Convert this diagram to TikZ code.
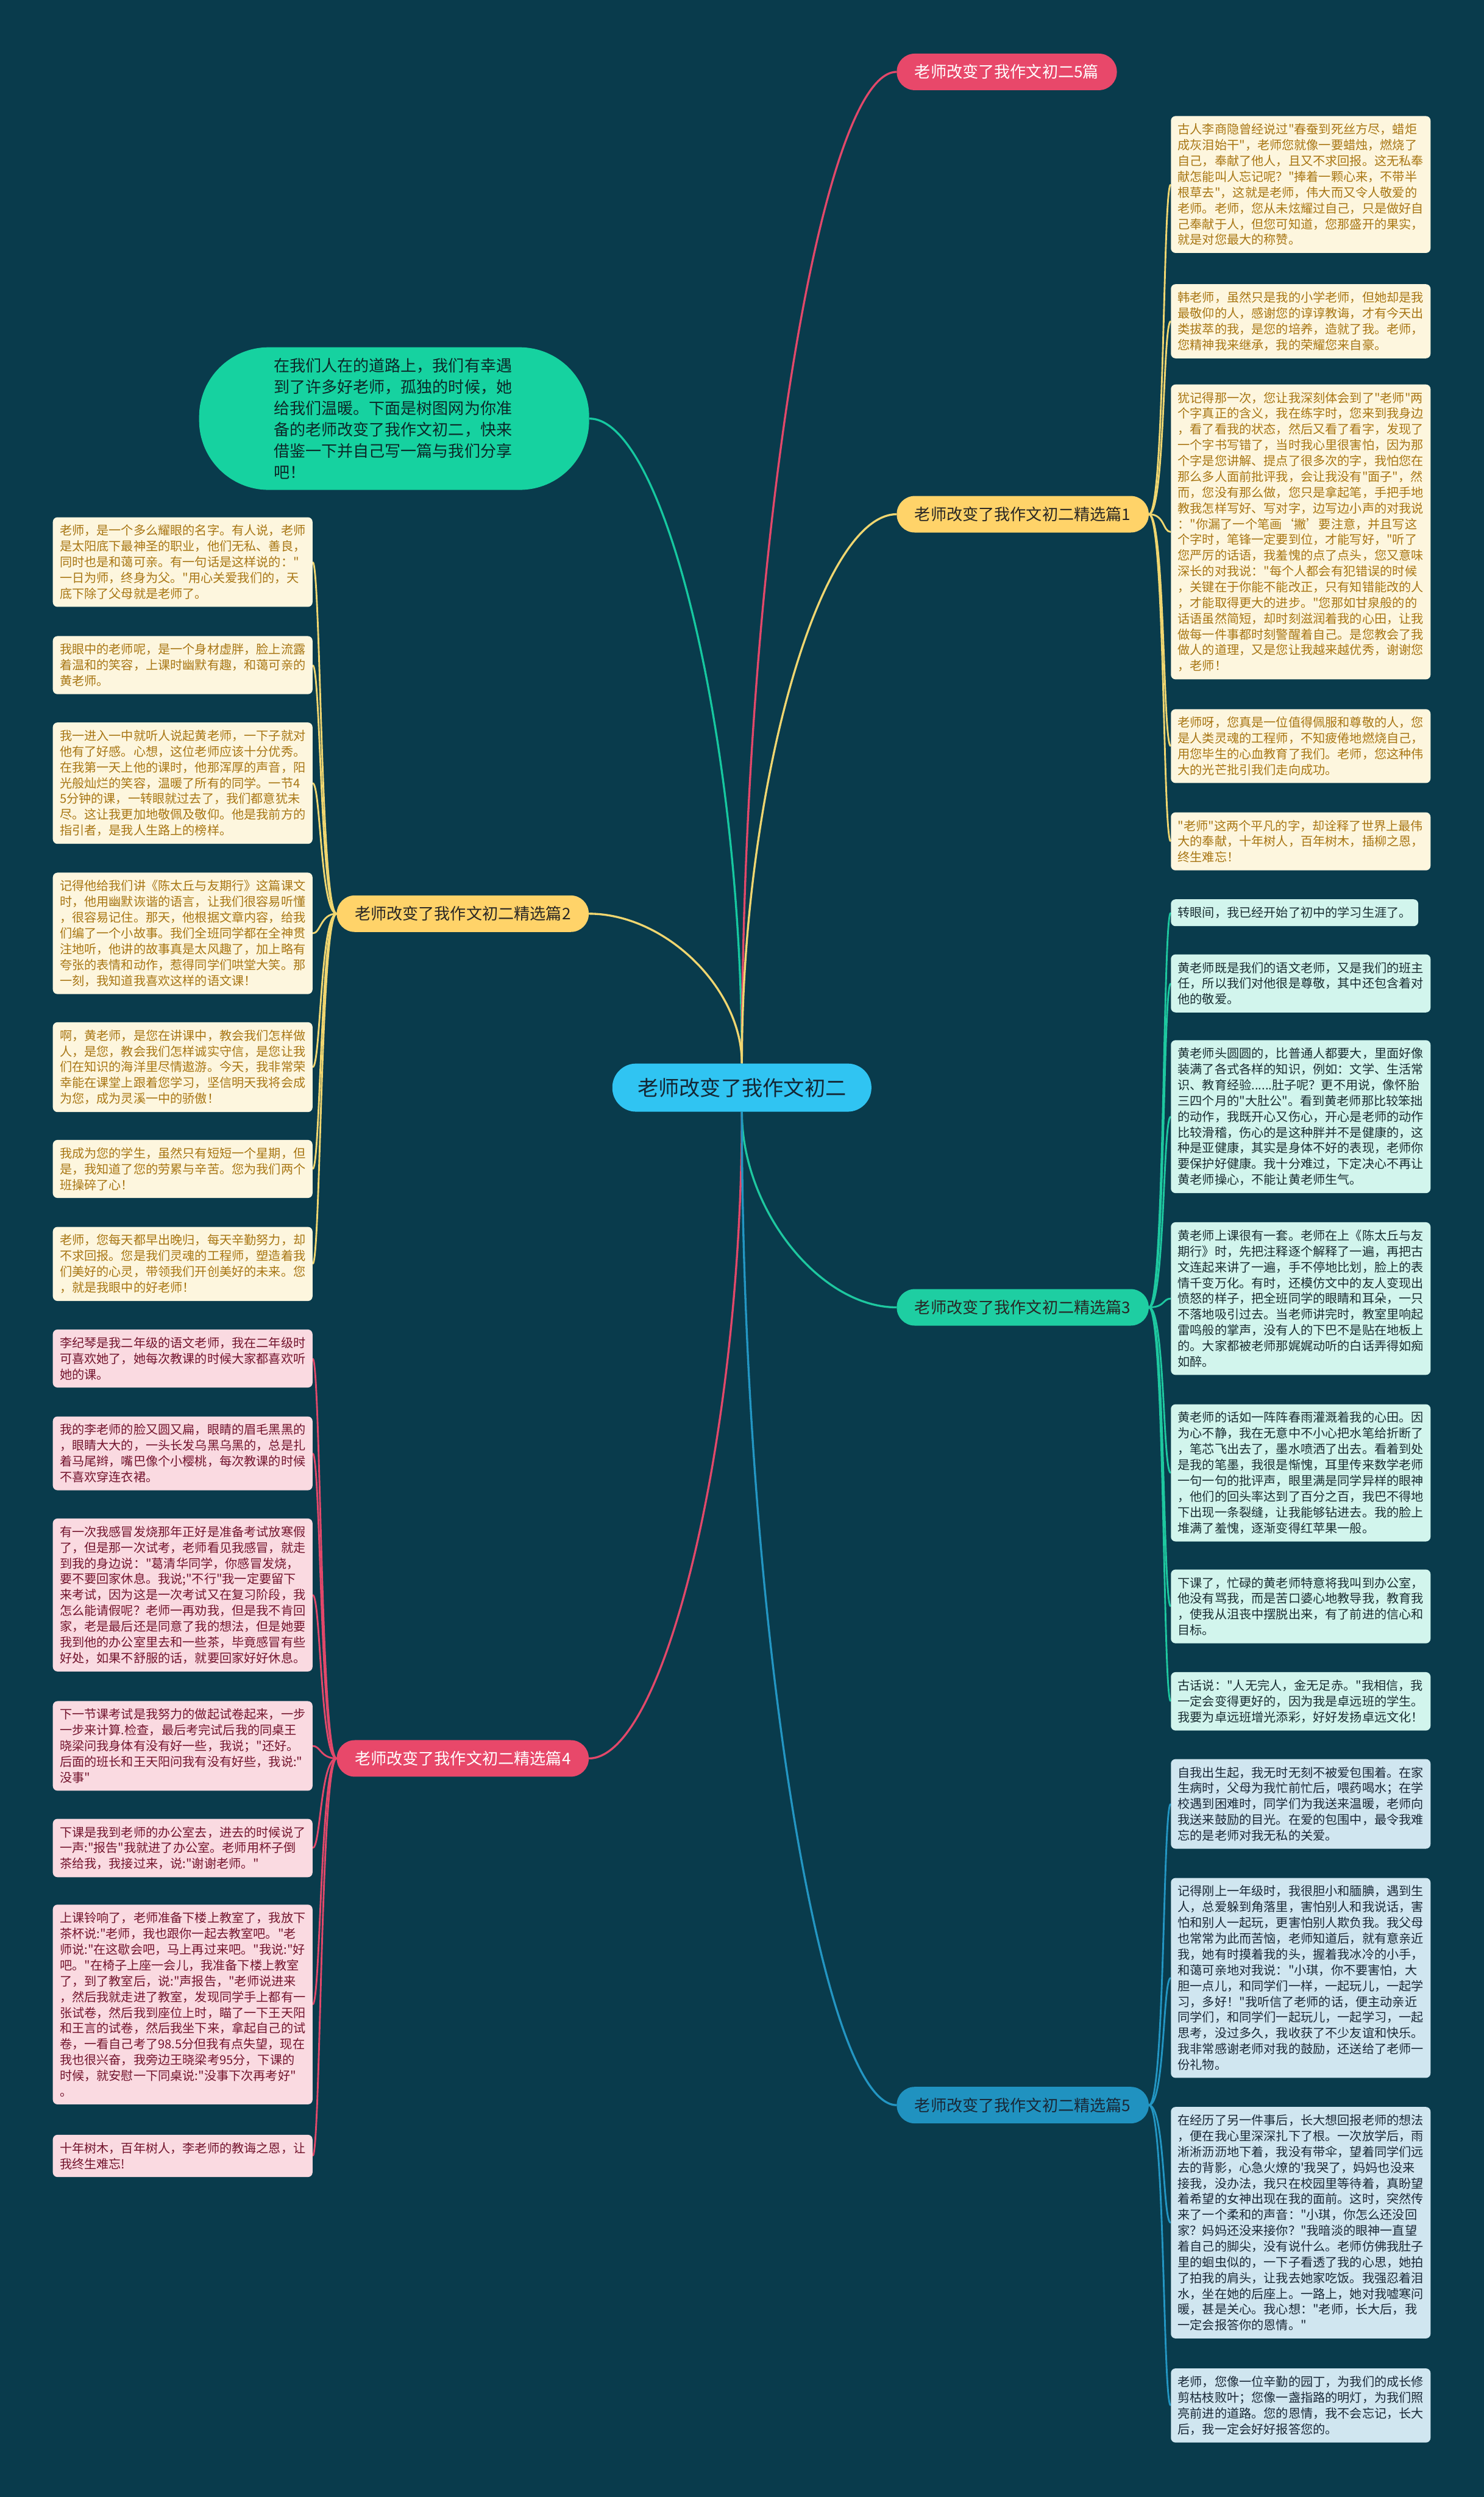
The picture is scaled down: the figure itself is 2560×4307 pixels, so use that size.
\documentclass[tikz,border=0pt]{standalone}
\usepackage{fontspec}
\newfontfamily\cjk{Noto Sans CJK SC}
\usetikzlibrary{calc}
\pgfdeclarelayer{bg}
\pgfsetlayers{bg,main}
\definecolor{bgc}{RGB}{9,59,76}
\definecolor{ctrfill}{RGB}{48,196,242}
\definecolor{ctrtext}{RGB}{20,38,52}
\definecolor{pinkfill}{RGB}{232,72,106}
\definecolor{yellowfill}{RGB}{255,211,105}
\definecolor{greenfill}{RGB}{30,206,162}
\definecolor{bluefill}{RGB}{32,146,192}
\definecolor{introfill}{RGB}{22,210,160}
\definecolor{darktext}{RGB}{40,38,36}
\definecolor{introtext}{RGB}{12,40,40}
\definecolor{lineY}{RGB}{240,214,112}
\definecolor{lineP}{RGB}{226,72,106}
\definecolor{lineG}{RGB}{30,200,160}
\definecolor{lineB}{RGB}{35,150,195}
\definecolor{lineI}{RGB}{22,200,160}
\definecolor{creamfill}{RGB}{253,246,222}
\definecolor{creamtext}{RGB}{168,118,20}
\definecolor{mintfill}{RGB}{210,245,237}
\definecolor{minttext}{RGB}{25,45,50}
\definecolor{bluelfill}{RGB}{208,230,240}
\definecolor{bluetext}{RGB}{25,40,55}
\definecolor{pinklfill}{RGB}{250,218,225}
\definecolor{pinktext}{RGB}{115,20,45}
\tikzset{
  ctrnode/.style={fill=ctrfill, text=ctrtext, minimum width=447pt, minimum height=83pt, rounded corners=41pt, inner sep=0pt, font=\cjk\fontsize{36}{40}\selectfont},
  lab/.style={minimum height=63pt, rounded corners=31pt, inner xsep=31pt, inner ysep=0pt, font=\cjk\fontsize{27.5}{30}\selectfont},
  labY/.style={lab, fill=yellowfill, text=darktext},
  labP/.style={lab, fill=pinkfill, text=white},
  labG/.style={lab, fill=greenfill, text=darktext},
  labB/.style={lab, fill=bluefill, text=bluetext},
  intro/.style={fill=introfill, text=introtext, minimum width=673pt, minimum height=246pt, rounded corners=120pt, text width=415pt, align=left, inner sep=0pt, font=\cjk\fontsize{27.4}{36.7}\selectfont},
  leaf/.style={rounded corners=8pt, text width=424pt, align=left, inner xsep=12pt, inner ysep=13pt, anchor=north west, font=\cjk\fontsize{21.2}{27.2}\selectfont},
  leafY/.style={leaf, fill=creamfill, text=creamtext},
  leafG/.style={leaf, fill=mintfill, text=minttext},
  leafB/.style={leaf, fill=bluelfill, text=bluetext},
  leafP/.style={leaf, fill=pinklfill, text=pinktext},
  mainline/.style={line width=3.5pt},
  leafline/.style={line width=3pt},
}
\newcommand\myrconn[3]{\draw[leafline,#1] (#2.east) .. controls ($(#2.east)+(28,0)$) and ($(#3.west)+(-14,0)$) .. (#3.west);}
\newcommand\mylconn[3]{\draw[leafline,#1] (#2.west) .. controls ($(#2.west)+(-28,0)$) and ($(#3.east)+(14,0)$) .. (#3.east);}
\begin{document}
\begin{tikzpicture}[x=1pt,y=-1pt]
\begin{pgfonlayer}{bg}
\fill[bgc] (0,0) rectangle (2560,4307);
\end{pgfonlayer}
\useasboundingbox (0,0) rectangle (2560,4307);

% centre
\node[ctrnode] (ctr) at (1280,1876) {老师改变了我作文初二};

% intro
\node[intro] (intro) at (680,722) {在我们人在的道路上，我们有幸遇\\到了许多好老师，孤独的时候，她\\给我们温暖。下面是树图网为你准\\备的老师改变了我作文初二，快来\\借鉴一下并自己写一篇与我们分享\\吧！};

% branch labels
\node[labP, anchor=west] (b0) at (1547,124) {老师改变了我作文初二5篇};
\node[labY, anchor=west] (b1) at (1547,887) {老师改变了我作文初二精选篇1};
\node[labY, anchor=east] (b2) at (1016,1576) {老师改变了我作文初二精选篇2};
\node[labG, anchor=west] (b3) at (1547,2255) {老师改变了我作文初二精选篇3};
\node[labP, anchor=east] (b4) at (1016,3033) {老师改变了我作文初二精选篇4};
\node[labB, anchor=west] (b5) at (1547,3631) {老师改变了我作文初二精选篇5};

% branch 1 leaves
\node[leafY] (r1a) at (2020,200) {古人李商隐曾经说过"春蚕到死丝方尽，蜡炬\\成灰泪始干"，老师您就像一要蜡烛，燃烧了\\自己，奉献了他人，且又不求回报。这无私奉\\献怎能叫人忘记呢？"捧着一颗心来，不带半\\根草去"，这就是老师，伟大而又令人敬爱的\\老师。老师，您从未炫耀过自己，只是做好自\\己奉献于人，但您可知道，您那盛开的果实，\\就是对您最大的称赞。};
\node[leafY] (r1b) at (2020,490) {韩老师，虽然只是我的小学老师，但她却是我\\最敬仰的人，感谢您的谆谆教诲，才有今天出\\类拔萃的我，是您的培养，造就了我。老师，\\您精神我来继承，我的荣耀您来自豪。};
\node[leafY] (r1c) at (2020,663) {犹记得那一次，您让我深刻体会到了"老师"两\\个字真正的含义，我在练字时，您来到我身边\\，看了看我的状态，然后又看了看字，发现了\\一个字书写错了，当时我心里很害怕，因为那\\个字是您讲解、提点了很多次的字，我怕您在\\那么多人面前批评我，会让我没有"面子"，然\\而，您没有那么做，您只是拿起笔，手把手地\\教我怎样写好、写对字，边写边小声的对我说\\："你漏了一个笔画‘撇’要注意，并且写这\\个字时，笔锋一定要到位，才能写好，"听了\\您严厉的话语，我羞愧的点了点头，您又意味\\深长的对我说："每个人都会有犯错误的时候\\，关键在于你能不能改正，只有知错能改的人\\，才能取得更大的进步。"您那如甘泉般的的\\话语虽然简短，却时刻滋润着我的心田，让我\\做每一件事都时刻警醒着自己。是您教会了我\\做人的道理，又是您让我越来越优秀，谢谢您\\，老师！};
\node[leafY] (r1d) at (2020,1223) {老师呀，您真是一位值得佩服和尊敬的人，您\\是人类灵魂的工程师，不知疲倦地燃烧自己，\\用您毕生的心血教育了我们。老师，您这种伟\\大的光芒批引我们走向成功。};
\node[leafY] (r1e) at (2020,1401) {"老师"这两个平凡的字，却诠释了世界上最伟\\大的奉献，十年树人，百年树木，插柳之恩，\\终生难忘！};

% branch 3 leaves
\node[leaf, fill=mintfill, text=minttext, text width=, align=left] (r3a) at (2020,1551) {转眼间，我已经开始了初中的学习生涯了。};
\node[leafG] (r3b) at (2020,1646) {黄老师既是我们的语文老师，又是我们的班主\\任，所以我们对他很是尊敬，其中还包含着对\\他的敬爱。};
\node[leafG] (r3c) at (2020,1794) {黄老师头圆圆的，比普通人都要大，里面好像\\装满了各式各样的知识，例如：文学、生活常\\识、教育经验......肚子呢？更不用说，像怀胎\\三四个月的"大肚公"。看到黄老师那比较笨拙\\的动作，我既开心又伤心，开心是老师的动作\\比较滑稽，伤心的是这种胖并不是健康的，这\\种是亚健康，其实是身体不好的表现，老师你\\要保护好健康。我十分难过，下定决心不再让\\黄老师操心，不能让黄老师生气。};
\node[leafG] (r3d) at (2020,2108) {黄老师上课很有一套。老师在上《陈太丘与友\\期行》时，先把注释逐个解释了一遍，再把古\\文连起来讲了一遍，手不停地比划，脸上的表\\情千变万化。有时，还模仿文中的友人变现出\\愤怒的样子，把全班同学的眼睛和耳朵，一只\\不落地吸引过去。当老师讲完时，教室里响起\\雷鸣般的掌声，没有人的下巴不是贴在地板上\\的。大家都被老师那娓娓动听的白话弄得如痴\\如醉。};
\node[leafG] (r3e) at (2020,2422) {黄老师的话如一阵阵春雨灌溉着我的心田。因\\为心不静，我在无意中不小心把水笔给折断了\\，笔芯飞出去了，墨水喷洒了出去。看着到处\\是我的笔墨，我很是惭愧，耳里传来数学老师\\一句一句的批评声，眼里满是同学异样的眼神\\，他们的回头率达到了百分之百，我巴不得地\\下出现一条裂缝，让我能够钻进去。我的脸上\\堆满了羞愧，逐渐变得红苹果一般。};
\node[leafG] (r3f) at (2020,2707) {下课了，忙碌的黄老师特意将我叫到办公室，\\他没有骂我，而是苦口婆心地教导我，教育我\\，使我从沮丧中摆脱出来，有了前进的信心和\\目标。};
\node[leafG] (r3g) at (2020,2884) {古话说："人无完人，金无足赤。"我相信，我\\一定会变得更好的，因为我是卓远班的学生。\\我要为卓远班增光添彩，好好发扬卓远文化！};

% branch 5 leaves
\node[leafB] (r5a) at (2020,3034) {自我出生起，我无时无刻不被爱包围着。在家\\生病时，父母为我忙前忙后，喂药喝水；在学\\校遇到困难时，同学们为我送来温暖，老师向\\我送来鼓励的目光。在爱的包围中，最令我难\\忘的是老师对我无私的关爱。};
\node[leafB] (r5b) at (2020,3239) {记得刚上一年级时，我很胆小和腼腆，遇到生\\人，总爱躲到角落里，害怕别人和我说话，害\\怕和别人一起玩，更害怕别人欺负我。我父母\\也常常为此而苦恼，老师知道后，就有意亲近\\我，她有时摸着我的头，握着我冰冷的小手，\\和蔼可亲地对我说："小琪，你不要害怕，大\\胆一点儿，和同学们一样，一起玩儿，一起学\\习，多好！"我听信了老师的话，便主动亲近\\同学们，和同学们一起玩儿，一起学习，一起\\思考，没过多久，我收获了不少友谊和快乐。\\我非常感谢老师对我的鼓励，还送给了老师一\\份礼物。};
\node[leafB] (r5c) at (2020,3634) {在经历了另一件事后，长大想回报老师的想法\\，便在我心里深深扎下了根。一次放学后，雨\\淅淅沥沥地下着，我没有带伞，望着同学们远\\去的背影，心急火燎的'我哭了，妈妈也没来\\接我，没办法，我只在校园里等待着，真盼望\\着希望的女神出现在我的面前。这时，突然传\\来了一个柔和的声音："小琪，你怎么还没回\\家？妈妈还没来接你？"我暗淡的眼神一直望\\着自己的脚尖，没有说什么。老师仿佛我肚子\\里的蛔虫似的，一下子看透了我的心思，她拍\\了拍我的肩头，让我去她家吃饭。我强忍着泪\\水，坐在她的后座上。一路上，她对我嘘寒问\\暖，甚是关心。我心想："老师，长大后，我\\一定会报答你的恩情。"};
\node[leafB] (r5d) at (2020,4085) {老师，您像一位辛勤的园丁，为我们的成长修\\剪枯枝败叶；您像一盏指路的明灯，为我们照\\亮前进的道路。您的恩情，我不会忘记，长大\\后，我一定会好好报答您的。};

% branch 2 leaves
\node[leafY] (l2a) at (91,892) {老师，是一个多么耀眼的名字。有人说，老师\\是太阳底下最神圣的职业，他们无私、善良，\\同时也是和蔼可亲。有一句话是这样说的："\\一日为师，终身为父。"用心关爱我们的，天\\底下除了父母就是老师了。};
\node[leafY] (l2b) at (91,1097) {我眼中的老师呢，是一个身材虚胖，脸上流露\\着温和的笑容，上课时幽默有趣，和蔼可亲的\\黄老师。};
\node[leafY] (l2c) at (91,1246) {我一进入一中就听人说起黄老师，一下子就对\\他有了好感。心想，这位老师应该十分优秀。\\在我第一天上他的课时，他那浑厚的声音，阳\\光般灿烂的笑容，温暖了所有的同学。一节4\\5分钟的课，一转眼就过去了，我们都意犹未\\尽。这让我更加地敬佩及敬仰。他是我前方的\\指引者，是我人生路上的榜样。};
\node[leafY] (l2d) at (91,1505) {记得他给我们讲《陈太丘与友期行》这篇课文\\时，他用幽默诙谐的语言，让我们很容易听懂\\，很容易记住。那天，他根据文章内容，给我\\们编了一个小故事。我们全班同学都在全神贯\\注地听，他讲的故事真是太风趣了，加上略有\\夸张的表情和动作，惹得同学们哄堂大笑。那\\一刻，我知道我喜欢这样的语文课！};
\node[leafY] (l2e) at (91,1763) {啊，黄老师，是您在讲课中，教会我们怎样做\\人，是您，教会我们怎样诚实守信，是您让我\\们在知识的海洋里尽情遨游。今天，我非常荣\\幸能在课堂上跟着您学习，坚信明天我将会成\\为您，成为灵溪一中的骄傲！};
\node[leafY] (l2f) at (91,1966) {我成为您的学生，虽然只有短短一个星期，但\\是，我知道了您的劳累与辛苦。您为我们两个\\班操碎了心！};
\node[leafY] (l2g) at (91,2116) {老师，您每天都早出晚归，每天辛勤努力，却\\不求回报。您是我们灵魂的工程师，塑造着我\\们美好的心灵，带领我们开创美好的未来。您\\，就是我眼中的好老师！};

% branch 4 leaves
\node[leafP] (l4a) at (91,2293) {李纪琴是我二年级的语文老师，我在二年级时\\可喜欢她了，她每次教课的时候大家都喜欢听\\她的课。};
\node[leafP] (l4b) at (91,2443) {我的李老师的脸又圆又扁，眼睛的眉毛黑黑的\\，眼睛大大的，一头长发乌黑乌黑的，总是扎\\着马尾辫，嘴巴像个小樱桃，每次教课的时候\\不喜欢穿连衣裙。};
\node[leafP] (l4c) at (91,2619) {有一次我感冒发烧那年正好是准备考试放寒假\\了，但是那一次试考，老师看见我感冒，就走\\到我的身边说："葛清华同学，你感冒发烧，\\要不要回家休息。我说;"不行"我一定要留下\\来考试，因为这是一次考试又在复习阶段，我\\怎么能请假呢？老师一再劝我，但是我不肯回\\家，老是最后还是同意了我的想法，但是她要\\我到他的办公室里去和一些茶，毕竟感冒有些\\好处，如果不舒服的话，就要回家好好休息。};
\node[leafP] (l4d) at (91,2934) {下一节课考试是我努力的做起试卷起来，一步\\一步来计算.检查，最后考完试后我的同桌王\\晓梁问我身体有没有好一些，我说；"还好。\\后面的班长和王天阳问我有没有好些，我说:"\\没事"};
\node[leafP] (l4e) at (91,3137) {下课是我到老师的办公室去，进去的时候说了\\一声:"报告"我就进了办公室。老师用杯子倒\\茶给我，我接过来，说:"谢谢老师。"};
\node[leafP] (l4f) at (91,3285) {上课铃响了，老师准备下楼上教室了，我放下\\茶杯说:"老师，我也跟你一起去教室吧。"老\\师说:"在这歇会吧，马上再过来吧。"我说:"好\\吧。"在椅子上座一会儿，我准备下楼上教室\\了，到了教室后，说:"声报告，"老师说进来\\，然后我就走进了教室，发现同学手上都有一\\张试卷，然后我到座位上时，瞄了一下王天阳\\和王言的试卷，然后我坐下来，拿起自己的试\\卷，一看自己考了98.5分但我有点失望，现在\\我也很兴奋，我旁边王晓梁考95分，下课的\\时候，就安慰一下同桌说:"没事下次再考好"\\。};
\node[leafP] (l4g) at (91,3682) {十年树木，百年树人，李老师的教诲之恩，让\\我终生难忘!};

% connectors
\begin{pgfonlayer}{bg}
\draw[mainline, lineI] (intro.east) .. controls (1148,722) and (1280,1279) .. (ctr.north);
\draw[mainline, lineP] (b0.west) .. controls (1414,124) and (1280,980) .. (ctr.north);
\draw[mainline, lineY] (b1.west) .. controls (1414,887) and (1280,1361) .. (ctr.north);
\draw[mainline, lineY] (b2.east) .. controls (1148,1576) and (1280,1705) .. (ctr.north);
\draw[mainline, lineG] (b3.west) .. controls (1414,2255) and (1280,2086) .. (ctr.south);
\draw[mainline, lineP] (b4.east) .. controls (1148,3033) and (1280,2475) .. (ctr.south);
\draw[mainline, lineB] (b5.west) .. controls (1414,3631) and (1280,2774) .. (ctr.south);

\myrconn{lineY}{b1}{r1a}
\myrconn{lineY}{b1}{r1b}
\myrconn{lineY}{b1}{r1c}
\myrconn{lineY}{b1}{r1d}
\myrconn{lineY}{b1}{r1e}

\myrconn{lineG}{b3}{r3a}
\myrconn{lineG}{b3}{r3b}
\myrconn{lineG}{b3}{r3c}
\myrconn{lineG}{b3}{r3d}
\myrconn{lineG}{b3}{r3e}
\myrconn{lineG}{b3}{r3f}
\myrconn{lineG}{b3}{r3g}

\myrconn{lineB}{b5}{r5a}
\myrconn{lineB}{b5}{r5b}
\myrconn{lineB}{b5}{r5c}
\myrconn{lineB}{b5}{r5d}

\mylconn{lineY}{b2}{l2a}
\mylconn{lineY}{b2}{l2b}
\mylconn{lineY}{b2}{l2c}
\mylconn{lineY}{b2}{l2d}
\mylconn{lineY}{b2}{l2e}
\mylconn{lineY}{b2}{l2f}
\mylconn{lineY}{b2}{l2g}

\mylconn{lineP}{b4}{l4a}
\mylconn{lineP}{b4}{l4b}
\mylconn{lineP}{b4}{l4c}
\mylconn{lineP}{b4}{l4d}
\mylconn{lineP}{b4}{l4e}
\mylconn{lineP}{b4}{l4f}
\mylconn{lineP}{b4}{l4g}
\end{pgfonlayer}
\end{tikzpicture}
\end{document}
